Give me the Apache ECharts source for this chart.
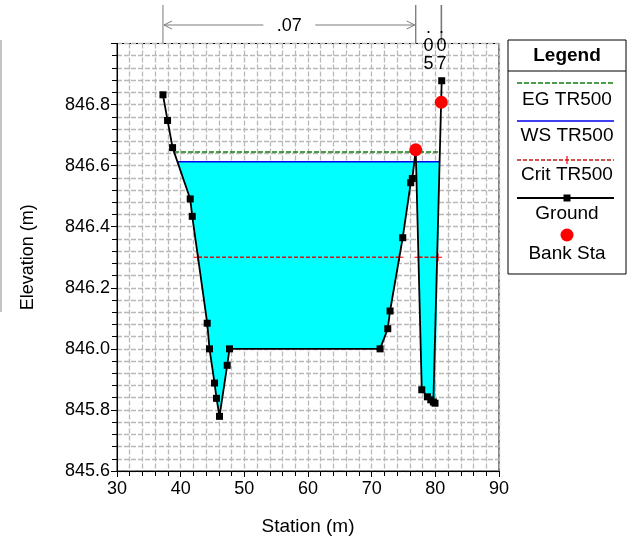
<!DOCTYPE html>
<html>
<head>
<meta charset="utf-8">
<script src="https://cdn.jsdelivr.net/npm/echarts@6/dist/echarts.min.js"></script>
<style>
  html, body { margin: 0; padding: 0; background: #fff; }
  #chart { width: 630px; height: 541px; }
</style>
</head>
<body>
<div id="chart"></div>
<script>
// Cross-section ground survey: station (m) and elevation (m)
const groundStation = [37.22, 37.94, 38.73, 41.50, 41.82, 44.17, 44.53, 45.32, 45.63, 46.10, 47.31, 47.67,
                       71.32, 72.53, 72.89, 74.88, 76.14, 76.39, 76.92, 77.87, 78.75, 79.28, 79.69, 79.95, 81.00];
const groundElev    = [846.832, 846.748, 846.659, 846.491, 846.434, 846.084, 846.000, 845.888, 845.838, 845.779, 845.946, 846.000,
                       846.000, 846.066, 846.124, 846.364, 846.544, 846.558, 846.652, 845.866, 845.843, 845.833, 845.826, 845.822, 846.878];

// Bank stations (m)
const bankStations = [76.92, 80.93];

// Profile TR500 water levels (m)
const egLevel = 846.645;
const wsLevel = 846.613;
const critLevel = 846.30;

// Manning's n regions: boundaries (m) and values
const nBounds = [37.22, 76.92, 80.93, 81.00];
const nValues = ['.07', '.05', '.07'];

// Axis ranges and tick steps
const xRange = [30, 90];
const xStep = 10;
const yRange = [845.6, 847.0];
const yStep = 0.2;

const FONT = 'Arial, "Liberation Sans", sans-serif';
const ground = groundStation.map((x, i) => [x, groundElev[i]]);

function groundAt(x) {
  for (let i = 0; i < ground.length - 1; i++) {
    const [x1, y1] = ground[i], [x2, y2] = ground[i + 1];
    if (x >= x1 && x <= x2) return x2 === x1 ? y1 : y1 + (x - x1) / (x2 - x1) * (y2 - y1);
  }
  return ground[ground.length - 1][1];
}

// Stations where the ground profile crosses a given elevation
function crossings(level) {
  const xs = [];
  for (let i = 0; i < ground.length - 1; i++) {
    const [x1, y1] = ground[i], [x2, y2] = ground[i + 1];
    if ((y1 - level) * (y2 - level) < 0) xs.push(x1 + (level - y1) / (y2 - y1) * (x2 - x1));
  }
  return xs;
}

// Wetted area outline: ground clipped to the water surface
function waterOutline(level) {
  const pts = [];
  for (let i = 0; i < ground.length; i++) {
    const [x1, y1] = ground[i];
    pts.push([x1, Math.min(y1, level)]);
    if (i < ground.length - 1) {
      const [x2, y2] = ground[i + 1];
      if ((y1 - level) * (y2 - level) < 0) pts.push([x1 + (level - y1) / (y2 - y1) * (x2 - x1), level]);
    }
  }
  return pts;
}

const wsX = crossings(wsLevel);
const egX = crossings(egLevel);
const critX = crossings(critLevel);
const critSegments = [];
for (let i = 0; i + 1 < critX.length; i += 2) critSegments.push([[critX[i], critLevel], [critX[i + 1], critLevel]]);

const plusPath = 'path://M0,3.4H8V4.6H0Z M3.4,0H4.6V8H3.4Z';
const CRIT_COLOR = '#c41a1a';

const chart = echarts.init(document.getElementById('chart'));

const series = [
  {
    // water fill
    type: 'custom',
    z: 1,
    silent: true,
    data: [[groundStation[0], wsLevel]],
    encode: { x: 0, y: 1 },
    renderItem: function (params, api) {
      const pts = waterOutline(wsLevel).map(p => api.coord(p));
      return { type: 'polygon', shape: { points: pts }, style: { fill: '#00ffff', stroke: null } };
    }
  },
  {
    name: 'EG TR500', type: 'line', z: 3, symbol: 'none',
    data: [[egX[0], egLevel], [egX[egX.length - 1], egLevel]],
    lineStyle: { color: '#108010', width: 1.5, type: [5, 2] }
  },
  {
    name: 'WS TR500', type: 'line', z: 3, symbol: 'none',
    data: [[wsX[0], wsLevel], [wsX[wsX.length - 1], wsLevel]],
    lineStyle: { color: '#0000ee', width: 1.5 }
  }
];

critSegments.forEach(seg => series.push({
  name: 'Crit TR500', type: 'line', z: 3,
  data: seg,
  symbol: plusPath, symbolSize: 8,
  itemStyle: { color: '#ff0000' },
  lineStyle: { color: CRIT_COLOR, width: 1.5, type: [4, 2] }
}));

series.push(
  {
    name: 'Ground', type: 'line', z: 4,
    data: ground,
    symbol: 'rect', symbolSize: 7,
    itemStyle: { color: '#000' },
    lineStyle: { color: '#000', width: 1.8 }
  },
  {
    name: 'Bank Sta', type: 'scatter', z: 5,
    data: bankStations.map(x => [x, groundAt(x)]),
    symbol: 'circle', symbolSize: 13,
    itemStyle: { color: '#ff0000', opacity: 1 }
  },
  {
    // Manning's n annotations above the plot
    type: 'custom', z: 6, silent: true, clip: false,
    data: nValues.map((v, i) => [nBounds[i], yRange[0], nBounds[i + 1], i]),
    encode: { x: [0, 2], y: 1 },
    renderItem: function (params, api) {
      const x0 = api.coord([api.value(0), yRange[0]])[0];
      const x1 = api.coord([api.value(2), yRange[0]])[0];
      const top = params.coordSys.y;
      const label = nValues[api.value(3)];
      const stroke = '#7a7a7a';
      const children = [
        { type: 'line', shape: { x1: x0, y1: 5, x2: x0, y2: top }, style: { stroke: stroke, lineWidth: 1 } },
        { type: 'line', shape: { x1: x1, y1: 5, x2: x1, y2: top }, style: { stroke: stroke, lineWidth: 1 } }
      ];
      if (x1 - x0 > 60) {
        const mid = (x0 + x1) / 2, y = 25, gap = 26;
        children.push(
          { type: 'line', shape: { x1: x0 + 1, y1: y, x2: mid - gap, y2: y }, style: { stroke: stroke, lineWidth: 1 } },
          { type: 'line', shape: { x1: mid + gap, y1: y, x2: x1 - 1, y2: y }, style: { stroke: stroke, lineWidth: 1 } },
          { type: 'polyline', shape: { points: [[x0 + 9, y - 4], [x0 + 1, y], [x0 + 9, y + 4]] }, style: { stroke: stroke, lineWidth: 1, fill: null } },
          { type: 'polyline', shape: { points: [[x1 - 9, y - 4], [x1 - 1, y], [x1 - 9, y + 4]] }, style: { stroke: stroke, lineWidth: 1, fill: null } },
          { type: 'text', style: { text: label, x: mid, y: y + 1, align: 'center', verticalAlign: 'middle', font: '18px ' + FONT, fill: '#000' } }
        );
      } else {
        const cx = (x0 + x1) / 2;
        label.split('').forEach((ch, k) => children.push({
          type: 'text',
          style: { text: ch, x: cx, y: 28 + 18 * k, align: 'center', verticalAlign: 'middle', font: '18px ' + FONT, fill: '#000' }
        }));
      }
      return { type: 'group', children: children };
    }
  }
);

// Legend panel
const LX = 508, LW = 118, LC = LX + LW / 2;
const LFONT = '19px ' + FONT;
const legendItems = [
  { type: 'rect', shape: { x: LX, y: 40, width: LW, height: 234 }, style: { fill: '#fff', stroke: '#000', lineWidth: 1 } },
  { type: 'text', style: { text: 'Legend', x: LC, y: 56, align: 'center', verticalAlign: 'middle', font: 'bold 19px ' + FONT, fill: '#000' } },
  { type: 'line', shape: { x1: LX, y1: 71, x2: LX + LW, y2: 71 }, style: { stroke: '#000', lineWidth: 1 } },
  { type: 'line', shape: { x1: 517, y1: 83, x2: 614, y2: 83 }, style: { stroke: '#108010', lineWidth: 1.5, lineDash: [5, 2] } },
  { type: 'text', style: { text: 'EG TR500', x: LC, y: 100, align: 'center', verticalAlign: 'middle', font: LFONT, fill: '#000' } },
  { type: 'line', shape: { x1: 517, y1: 121, x2: 614, y2: 121 }, style: { stroke: '#0000ee', lineWidth: 1.5 } },
  { type: 'text', style: { text: 'WS TR500', x: LC, y: 136, align: 'center', verticalAlign: 'middle', font: LFONT, fill: '#000' } },
  { type: 'line', shape: { x1: 517, y1: 160, x2: 614, y2: 160 }, style: { stroke: CRIT_COLOR, lineWidth: 1.5, lineDash: [4, 2] } },
  { type: 'line', shape: { x1: LC, y1: 156, x2: LC, y2: 164 }, style: { stroke: '#ff0000', lineWidth: 1.2 } },
  { type: 'text', style: { text: 'Crit TR500', x: LC, y: 175, align: 'center', verticalAlign: 'middle', font: LFONT, fill: '#000' } },
  { type: 'line', shape: { x1: 517, y1: 198, x2: 614, y2: 198 }, style: { stroke: '#000', lineWidth: 1.8 } },
  { type: 'rect', shape: { x: LC - 3.5, y: 194.5, width: 7, height: 7 }, style: { fill: '#000' } },
  { type: 'text', style: { text: 'Ground', x: LC, y: 214, align: 'center', verticalAlign: 'middle', font: LFONT, fill: '#000' } },
  { type: 'circle', shape: { cx: LC, cy: 235, r: 6.5 }, style: { fill: '#ff0000' } },
  { type: 'text', style: { text: 'Bank Sta', x: LC, y: 254, align: 'center', verticalAlign: 'middle', font: LFONT, fill: '#000' } },
  // thin frame edge at the far left
  { type: 'line', shape: { x1: 1, y1: 40, x2: 1, y2: 312 }, style: { stroke: '#8a8a8a', lineWidth: 1 } }
];

const gridLine = { show: true, lineStyle: { color: '#b9b9b9', width: 1.3, type: [5, 2] } };

chart.setOption({
  animation: false,
  backgroundColor: '#fff',
  grid: { left: 117, right: 131, top: 43.5, bottom: 69, show: true, borderColor: '#000', borderWidth: 1, backgroundColor: 'transparent' },
  xAxis: {
    type: 'value', min: xRange[0], max: xRange[1], interval: xStep,
    name: 'Station (m)', nameLocation: 'middle', nameGap: 46,
    nameTextStyle: { fontFamily: FONT, fontSize: 19, color: '#000' },
    axisLine: { lineStyle: { color: '#000' } },
    axisTick: { length: 6, lineStyle: { color: '#000' } },
    minorTick: { show: true, splitNumber: 5, length: 5, lineStyle: { color: '#000' } },
    splitLine: gridLine, minorSplitLine: gridLine,
    axisLabel: { fontFamily: FONT, fontSize: 18, color: '#000', margin: 9 }
  },
  yAxis: {
    type: 'value', min: yRange[0], max: yRange[1], interval: yStep,
    name: 'Elevation (m)', nameLocation: 'middle', nameGap: 80,
    nameTextStyle: { fontFamily: FONT, fontSize: 18, color: '#000' },
    axisLine: { show: true, lineStyle: { color: '#000' } },
    axisTick: { show: true, length: 6, lineStyle: { color: '#000' } },
    minorTick: { show: true, splitNumber: 5, length: 5, lineStyle: { color: '#000' } },
    splitLine: gridLine, minorSplitLine: gridLine,
    axisLabel: { fontFamily: FONT, fontSize: 18, color: '#000', margin: 7, showMaxLabel: false, formatter: v => v.toFixed(1) }
  },
  graphic: legendItems,
  series: series
});
</script>
</body>
</html>
